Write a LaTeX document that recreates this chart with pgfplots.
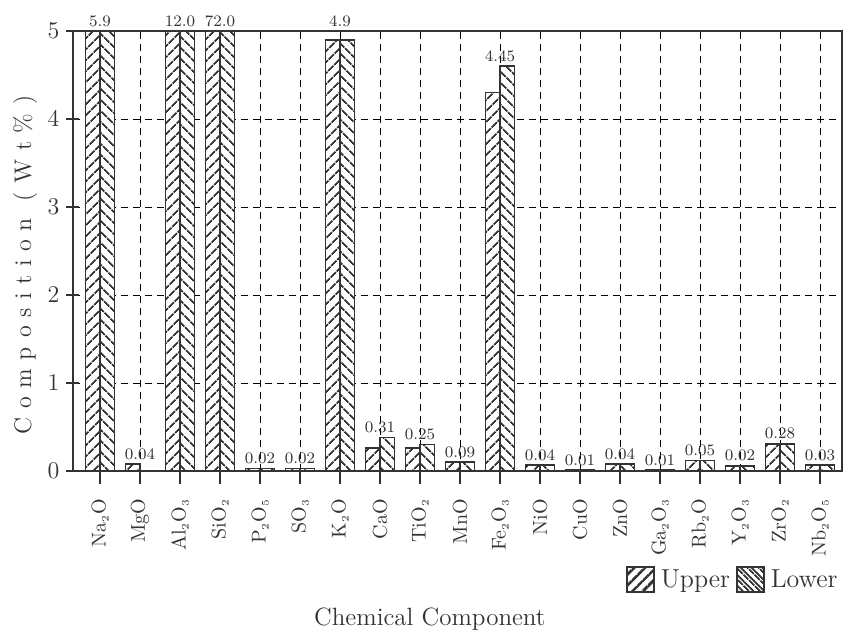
\documentclass[border=0pt]{standalone}
\usepackage{fontspec}
\usepackage{pgfplots}
\pgfplotsset{compat=1.18}
\usepackage{pgfplotstable}
\usetikzlibrary{patterns.meta}

\definecolor{ink}{HTML}{333333}
\newcommand{\s}[1]{$_{\scriptscriptstyle #1}$}
\newfontfamily\yspaced{Latin Modern Roman}[LetterSpace=36]

\pgfplotstableread{
x  upper lower
0  5.9   5.9
1  0.08  0.0
2  12.0  12.0
3  72.0  72.0
4  0.03  0.03
5  0.03  0.03
6  4.9   4.9
7  0.26  0.38
8  0.26  0.30
9  0.10  0.10
10 4.30  4.60
11 0.07  0.07
12 0.01  0.01
13 0.08  0.08
14 0.01  0.01
15 0.12  0.12
16 0.06  0.06
17 0.31  0.31
18 0.07  0.07
}\comp

\pgfplotstableread{
x  y     lab
0  5.0   5.9
1  0.08  0.04
2  5.0   12.0
3  5.0   72.0
4  0.03  0.02
5  0.03  0.02
6  5.0   4.9
7  0.38  0.31
8  0.30  0.25
9  0.10  0.09
10 4.60  4.45
11 0.07  0.04
12 0.01  0.01
13 0.08  0.04
14 0.01  0.01
15 0.12  0.05
16 0.06  0.02
17 0.31  0.28
18 0.07  0.03
}\labs

\begin{document}
\begin{tikzpicture}
\useasboundingbox (-36.5pt,-81pt) rectangle (385.5pt,235.5pt);
\begin{axis}[
  at={(0,0)}, anchor=south west,
  scale only axis,
  width=384.5pt, height=220pt,
  xmin=-0.675, xmax=18.55,
  ymin=0, ymax=5,
  clip=false,
  axis line style={ink, line width=1.3pt},
  xtick={0,...,18},
  xticklabels={Na\s2O, MgO, Al\s2O\s3, SiO\s2, P\s2O\s5, SO\s3, K\s2O, CaO, TiO\s2, MnO, Fe\s2O\s3, NiO, CuO, ZnO, Ga\s2O\s3, Rb\s2O, Y\s2O\s3, ZrO\s2, Nb\s2O\s5},
  x tick label style={rotate=90, anchor=east, font=\fontsize{10}{12}\selectfont, text=ink},
  xticklabel shift=4pt,
  ytick={0,...,5},
  y tick label style={font=\fontsize{12}{12}\selectfont, text=ink},
  xtick pos=bottom, ytick pos=left,
  major tick length=6.5pt,
  x tick style={ink, line width=0.8pt},
  xtick align=outside,
  y tick style={ink, line width=0.8pt},
  ytick align=center,
  xmajorgrids, ymajorgrids,
  major grid style={black, line width=0.5pt, dash pattern=on 3.5pt off 2.5pt},
  ylabel={Composition (Wt\%)},
  ylabel style={at={(axis description cs:-0.0624,0.468)}, anchor=center, font=\yspaced\fontsize{12}{12}\selectfont, text=ink},
  xlabel={Chemical\ Component},
  xlabel style={at={(axis description cs:0.464,0)}, anchor=center, yshift=-74pt, font=\fontsize{12.5}{14}\selectfont, text=ink},
  legend style={at={(1,0)}, anchor=north east, yshift=-47pt, draw=none, fill=none,
    font=\fontsize{13}{14}\selectfont, text=ink, column sep=1pt, inner sep=0pt},
  legend columns=2,
  legend cell align=left,
]
\addplot[ybar, bar width=7.2pt, bar shift=-3.6pt, draw=ink, line width=0.8pt,
  fill=white, postaction={pattern={Lines[angle=45, distance=4pt, line width=0.9pt]}, pattern color=ink},
  restrict y to domain*=0:5,
  legend image code/.code={\draw[ink, line width=0.8pt, fill=white, postaction={pattern={Lines[angle=45, distance=3.8pt, line width=0.85pt]}, pattern color=ink}] (0pt,-6.25pt) rectangle (13.5pt,6.25pt);}]
  table[x=x, y=upper] {\comp};
\addlegendentry{Upper\hspace{21pt}}
\addplot[ybar, bar width=7.2pt, bar shift=3.6pt, draw=ink, line width=0.8pt,
  fill=white, postaction={pattern={Lines[angle=-45, distance=4pt, line width=0.9pt]}, pattern color=ink},
  restrict y to domain*=0:5,
  legend image code/.code={\draw[ink, line width=0.8pt, fill=white, postaction={pattern={Lines[angle=-45, distance=3.8pt, line width=0.85pt]}, pattern color=ink}] (0pt,-6.25pt) rectangle (13.5pt,6.25pt);}]
  table[x=x, y=lower] {\comp};
\addlegendentry{Lower}
\addplot[forget plot, draw=none, mark=none, nodes near coords, point meta=explicit symbolic,
  nodes near coords style={anchor=south, font=\fontsize{8}{8}\selectfont, text=ink, inner sep=2pt}]
  table[x=x, y=y, meta=lab] {\labs};
\end{axis}
\end{tikzpicture}
\end{document}
